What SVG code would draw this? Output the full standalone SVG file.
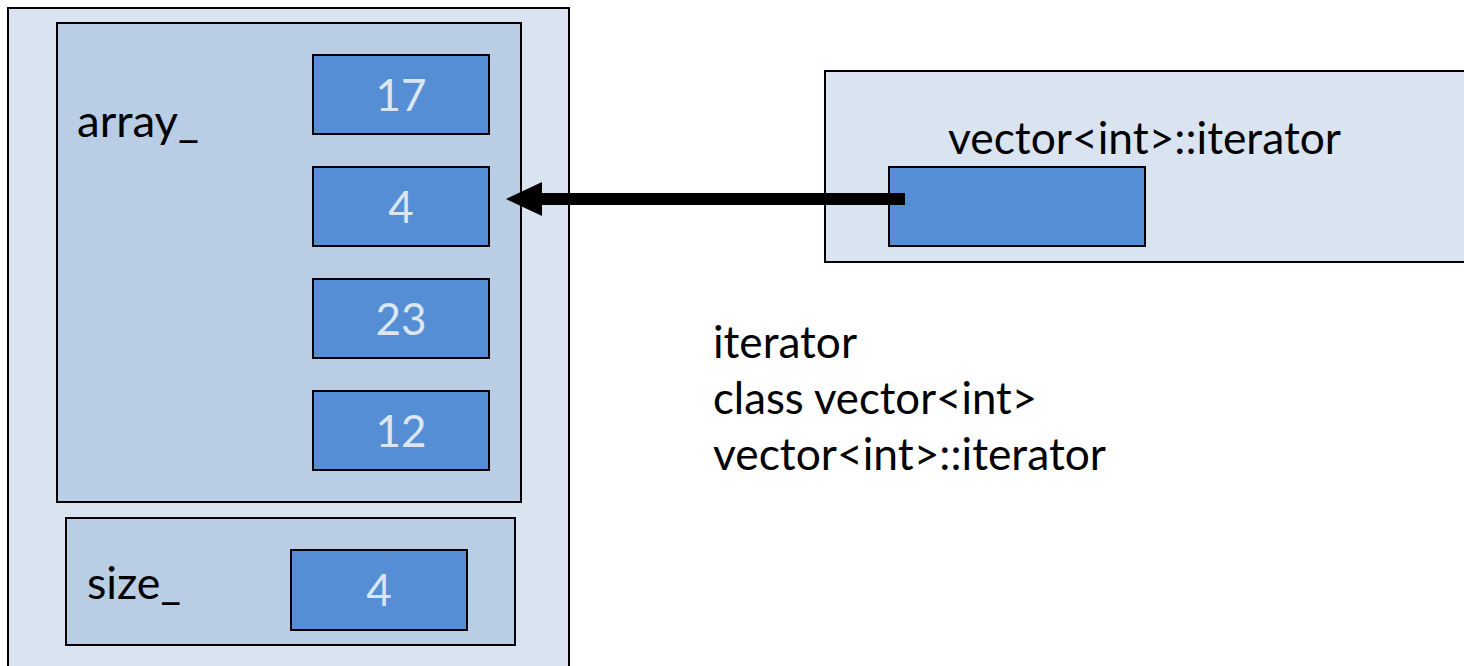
<svg xmlns="http://www.w3.org/2000/svg" width="1464" height="666" viewBox="0 0 1464 666">
<style>
  .outer { fill: #DAE3F0; stroke: #000; stroke-width: 2; }
  .inner { fill: #B9CDE5; stroke: #000; stroke-width: 2; }
  .cell { fill: #558ED5; stroke: #000; stroke-width: 2; }
  .lbl { font-family: Lato, "Liberation Sans", sans-serif; font-size: 44px; fill: #000; }
  .val { font-family: Lato, "Liberation Sans", sans-serif; font-size: 44px; fill: #DCE6F2; text-anchor: middle; }
</style>
<defs>
  <marker id="head" markerUnits="userSpaceOnUse" markerWidth="40" markerHeight="40" viewBox="0 0 40 40" refX="2" refY="17" orient="auto">
    <path d="M0,0 L36,17 L0,34 Z" fill="#000"/>
  </marker>
</defs>
<rect width="1464" height="666" fill="#FFFFFF"/>
<g id="vector">
  <rect class="outer" x="8" y="8" width="561" height="700"/>
</g>
<g id="array">
  <rect class="inner" x="57" y="23" width="464" height="479"/>
  <text class="lbl" x="77" y="137" textLength="122" lengthAdjust="spacingAndGlyphs">array_</text>
</g>
<g id="cell17">
  <rect class="cell" x="313" y="55" width="176" height="79"/>
  <text class="val" x="401" y="111">17</text>
</g>
<g id="cell4">
  <rect class="cell" x="313" y="167" width="176" height="79"/>
  <text class="val" x="401" y="223">4</text>
</g>
<g id="cell23">
  <rect class="cell" x="313" y="279" width="176" height="79"/>
  <text class="val" x="401" y="335">23</text>
</g>
<g id="cell12">
  <rect class="cell" x="313" y="391" width="176" height="79"/>
  <text class="val" x="401" y="447">12</text>
</g>
<g id="size">
  <rect class="inner" x="66" y="518" width="449" height="127"/>
  <text class="lbl" x="87" y="599" textLength="94" lengthAdjust="spacingAndGlyphs">size_</text>
</g>
<g id="sizeval">
  <rect class="cell" x="291" y="550" width="176" height="80"/>
  <text class="val" x="379" y="606">4</text>
</g>
<g id="iteratorObj">
  <rect class="outer" x="825" y="71" width="660" height="191"/>
  <text class="lbl" x="948" y="154" textLength="393" lengthAdjust="spacingAndGlyphs">vector&lt;int&gt;::iterator</text>
</g>
<g id="iteratorCell">
  <rect class="cell" x="889" y="167" width="256" height="79"/>
</g>
<g id="connectors">
  <line x1="905" y1="199" x2="540" y2="199" stroke="#000" stroke-width="12" marker-end="url(#head)"/>
</g>
<g id="notes">
  <text class="lbl" x="713" y="358" textLength="144" lengthAdjust="spacingAndGlyphs">iterator</text>
  <text class="lbl" x="713" y="414" textLength="324" lengthAdjust="spacingAndGlyphs">class vector&lt;int&gt;</text>
  <text class="lbl" x="713" y="470" textLength="393" lengthAdjust="spacingAndGlyphs">vector&lt;int&gt;::iterator</text>
</g>
</svg>
